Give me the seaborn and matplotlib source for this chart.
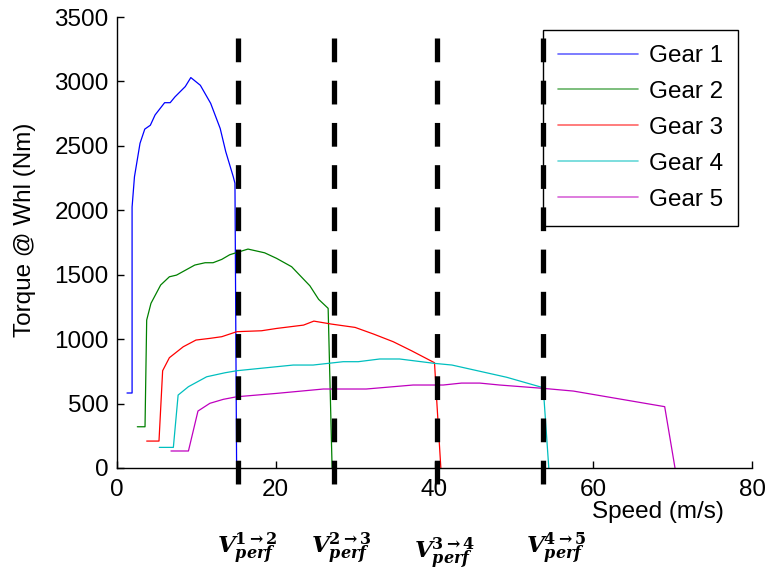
import matplotlib
matplotlib.use("Agg")
import matplotlib.pyplot as plt
import matplotlib.transforms as mtransforms
import seaborn as sns
import pandas as pd

# ---- data ----
gear1_speed = [1.26, 1.9, 1.9, 2.2, 2.9, 3.5, 4.2, 4.8, 6.0, 6.7, 7.3, 8.6, 9.3, 10.5, 11.8, 13.0, 13.7, 14.65, 14.86, 15.07]
gear1_torque = [582, 582, 2025, 2260, 2520, 2630, 2660, 2740, 2835, 2835, 2880, 2960, 3030, 2970, 2830, 2635, 2455, 2260, 2210, 0]

gear2_speed = [2.56, 3.53, 3.74, 4.28, 5.5, 6.6, 7.5, 9.8, 11.1, 12.1, 13.2, 14.2, 16.5, 18.6, 20.1, 22.0, 24.3, 25.4, 26.6, 27.1]
gear2_torque = [320, 320, 1148, 1278, 1420, 1484, 1497, 1575, 1593, 1593, 1619, 1655, 1699, 1670, 1627, 1562, 1414, 1309, 1239, 0]

gear3_speed = [3.74, 5.29, 5.75, 6.6, 8.35, 9.95, 11.7, 13.2, 15.1, 18.2, 20.1, 23.5, 24.8, 27.0, 30.0, 32.3, 34.8, 37.1, 40.0, 40.3, 40.8]
gear3_torque = [209, 209, 755, 856, 941, 993, 1006, 1019, 1058, 1065, 1083, 1109, 1140, 1117, 1091, 1040, 980, 910, 817, 504, 0]

gear4_speed = [5.33, 7.1, 7.7, 9.0, 11.3, 13.6, 15.1, 18.0, 22.2, 24.7, 28.5, 30.4, 33.1, 35.6, 40.0, 42.2, 49.1, 53.7, 54.4]
gear4_torque = [160, 160, 566, 631, 708, 739, 755, 773, 799, 799, 825, 825, 846, 846, 812, 799, 704, 623, 0]

gear5_speed = [6.8, 9.0, 10.2, 11.7, 13.4, 15.1, 20.1, 26.0, 31.4, 37.3, 41.1, 43.4, 45.7, 48.2, 53.7, 57.5, 69.0, 70.3]
gear5_torque = [132, 132, 442, 502, 533, 553, 579, 613, 613, 644, 644, 659, 659, 644, 618, 597, 476, 0]

gear_labels = ["Gear 1", "Gear 2", "Gear 3", "Gear 4", "Gear 5"]
gear_colors = ["#0000FF", "#008000", "#FF0000", "#00BFBF", "#BF00BF"]

shift_speeds = [15.24, 27.3, 40.3, 53.65]
shift_labels = [r"$\mathbfit{V}_{\mathbfit{perf}}^{\mathbf{1\rightarrow2}}$",
                r"$\mathbfit{V}_{\mathbfit{perf}}^{\mathbf{2\rightarrow3}}$",
                r"$\mathbfit{V}_{\mathbfit{perf}}^{\mathbf{3\rightarrow4}}$",
                r"$\mathbfit{V}_{\mathbfit{perf}}^{\mathbf{4\rightarrow5}}$"]

x_ticks = [0, 20, 40, 60, 80]
y_ticks = [0, 500, 1000, 1500, 2000, 2500, 3000, 3500]

# ---- build long table ----
rows = []
for lab, sp, tq in zip(gear_labels,
                       [gear1_speed, gear2_speed, gear3_speed, gear4_speed, gear5_speed],
                       [gear1_torque, gear2_torque, gear3_torque, gear4_torque, gear5_torque]):
    for i, (s, t) in enumerate(zip(sp, tq)):
        rows.append({"gear": lab, "speed": s, "torque": t, "order": i})
df = pd.DataFrame(rows)

sns.set_theme(style="white")
plt.rcParams["font.family"] = ["Liberation Sans", "DejaVu Sans"]
plt.rcParams["mathtext.fontset"] = "dejavuserif"
plt.rcParams["text.color"] = "black"

fig = plt.figure(figsize=(7.65, 5.74), dpi=100)
ax = fig.add_axes([117 / 765, 1 - 468 / 574, 635 / 765, 451 / 574])

sns.lineplot(data=df, x="speed", y="torque", hue="gear", hue_order=gear_labels,
             palette=dict(zip(gear_labels, gear_colors)), sort=False,
             estimator=None, units="gear", linewidth=0.9, ax=ax, legend=False)

ax.set_xlim(0, 80)
ax.set_ylim(0, 3500)
ax.set_xticks(x_ticks)
ax.set_yticks(y_ticks)
ax.set_xticklabels([str(v) for v in x_ticks])
ax.set_yticklabels([str(v) for v in y_ticks])
ax.tick_params(axis="both", direction="in", length=5, width=1, color="black",
               labelsize=17.5, labelcolor="black", pad=6, bottom=True, left=True,
               top=False, right=False)
ax.tick_params(axis="x", pad=8)
for side in ["top", "right"]:
    ax.spines[side].set_visible(False)
for side in ["left", "bottom"]:
    ax.spines[side].set_color("black")
    ax.spines[side].set_linewidth(1.0)
ax.set_xlabel("")
ax.set_ylabel("")

# dashed gear-shift lines (extend beyond axes)
for xs in shift_speeds:
    ax.plot([xs, xs], [3336, -215], color="black", linewidth=3.8,
            dashes=(4.5, 3.5), dash_capstyle="butt", clip_on=False, zorder=6)

# shift labels below the axis
trans = mtransforms.blended_transform_factory(ax.transData, fig.transFigure)
label_offsets = [1.1, 0.9, 1.0, 1.7]
label_y = [1 - 549 / 574, 1 - 549 / 574, 1 - 554 / 574, 1 - 549 / 574]
for xs, lab, off, ly in zip(shift_speeds, shift_labels, label_offsets, label_y):
    fig.text(xs + off, ly, lab, transform=trans, ha="center", va="center",
             fontsize=16.5, color="black")

# axis labels
fig.text(658 / 765, 1 - 512 / 574, "Speed (m/s)", ha="center", va="center",
         fontsize=17.5, color="black")
fig.text(25 / 765, 1 - 230 / 574, "Torque @ Whl (Nm)", ha="center", va="center",
         rotation=90, fontsize=17.5, color="black")

# legend
handles = [plt.Line2D([], [], color=c, linewidth=1.2, alpha=0.6) for c in gear_colors]
leg = ax.legend(handles, gear_labels, loc="upper left",
                bbox_to_anchor=(543 / 765, 1 - 30 / 574), bbox_transform=fig.transFigure,
                borderaxespad=0, fancybox=False, framealpha=1, edgecolor="black",
                fontsize=17.5, handlelength=3.3, handletextpad=0.45,
                labelspacing=0.57, borderpad=0.62, labelcolor="black")
leg.get_frame().set_linewidth(1.0)
leg.set_zorder(5)

fig.savefig("out.png", dpi=100)
